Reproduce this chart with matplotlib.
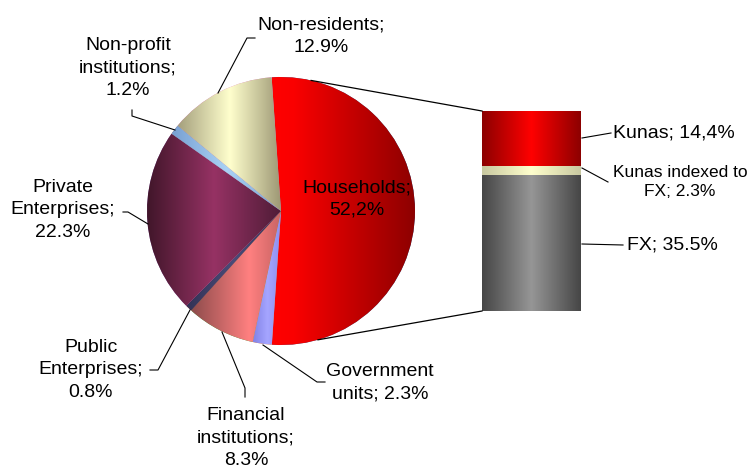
import numpy as np
import matplotlib
matplotlib.use("Agg")
from matplotlib import pyplot as plt
from matplotlib.colors import LinearSegmentedColormap

plt.rcParams['font.family'] = ['Liberation Sans', 'DejaVu Sans']

# data
sectors = ['Households', 'Government units', 'Financial institutions', 'Public Enterprises',
           'Private Enterprises', 'Non-profit institutions', 'Non-residents']
shares = [52.2, 2.3, 8.3, 0.8, 22.3, 1.2, 12.9]
share_labels = ['Households;\n52,2%', 'Government\nunits; 2.3%', 'Financial\ninstitutions;\n8.3%',
                'Public\nEnterprises;\n0.8%', 'Private\nEnterprises;\n22.3%',
                'Non-profit\ninstitutions;\n1.2%', 'Non-residents;\n12.9%']
hh_parts = ['FX', 'Kunas indexed to FX', 'Kunas']
hh_values = [35.5, 2.3, 14.4]
hh_labels = ['FX; 35.5%', 'Kunas indexed to\nFX; 2.3%', 'Kunas; 14,4%']

W, H = 748, 471
fig = plt.figure(figsize=(W / 100, H / 100), dpi=100)
ax = fig.add_axes([0, 0, 1, 1])

def py(y):
    # pixel row -> data y
    return H - y

def rgb(*c):
    return tuple(v / 255 for v in c)

def shade(patch, stops):
    # horizontal gradient over the patch, clipped to it
    cmap = LinearSegmentedColormap.from_list('g', [(p, rgb(*c)) for p, c in stops])
    bb = patch.get_extents().transformed(ax.transData.inverted())
    grad = np.linspace(0, 1, 256).reshape(1, -1)
    im = ax.imshow(grad, cmap=cmap, extent=[bb.x0, bb.x1, bb.y0, bb.y1],
                   aspect='auto', interpolation='bilinear', zorder=3)
    im.set_clip_path(patch)

cx, cy, r = 281, py(211), 134
wedges, _ = ax.pie(shares, center=(cx, cy), radius=r, startangle=94, counterclock=False,
                   frame=True, wedgeprops=dict(linewidth=0))
ax.set_xlim(0, W)
ax.set_ylim(0, H)
ax.set_aspect('auto')
ax.axis('off')
fig.canvas.draw()

pie_grads = [
    [(0, (255, 0, 0)), (0.15, (250, 0, 0)), (1, (140, 0, 0))],
    [(0, (130, 130, 230)), (0.5, (165, 165, 255)), (1, (140, 140, 240))],
    [(0, (140, 75, 75)), (0.65, (255, 128, 128)), (1, (200, 100, 100))],
    [(0, (50, 50, 85)), (0.5, (75, 75, 120)), (1, (50, 50, 85))],
    [(0, (65, 22, 42)), (0.5, (150, 50, 100)), (1, (80, 28, 55))],
    [(0, (120, 160, 210)), (0.5, (170, 210, 245)), (1, (120, 160, 210))],
    [(0, (165, 160, 125)), (0.5, (255, 255, 205)), (1, (155, 150, 115))],
]
for w, g in zip(wedges, pie_grads):
    shade(w, g)

# bar of households
bx, bw = 531.5, 99
btop, bbot = py(111), py(311)
scale = (btop - bbot) / sum(hh_values)
bottoms = bbot + scale * np.concatenate([[0], np.cumsum(hh_values)[:-1]])
bars = ax.bar([bx] * 3, np.array(hh_values) * scale, bottom=bottoms, width=bw,
              linewidth=0, color='white')
fig.canvas.draw()
bar_grads = [
    [(0, (70, 70, 70)), (0.5, (150, 150, 150)), (1, (70, 70, 70))],
    [(0, (200, 200, 160)), (0.5, (255, 255, 205)), (1, (200, 200, 160))],
    [(0, (140, 0, 0)), (0.5, (255, 0, 0)), (1, (140, 0, 0))],
]
for b, g in zip(bars, bar_grads):
    shade(b, g)

# connector lines pie -> bar
a1, a2 = np.radians(77), np.radians(-74)
ax.plot([cx + r * np.cos(a1), bx - bw / 2], [cy + r * np.sin(a1), btop], color='black', lw=0.9, zorder=4)
ax.plot([cx + r * np.cos(a2), bx - bw / 2], [cy + r * np.sin(a2), bbot], color='black', lw=0.9, zorder=4)

fs = 14
txt = dict(fontsize=fs, ha='center', va='center', linespacing=1.45, zorder=5)
# pie labels (pixel positions)
pos = [(357, 199), (380, 383), (246, 438), (91, 370), (63, 210), (128, 68), (321, 36)]
for lab, (x, y) in zip(share_labels, pos):
    ax.text(x, py(y), lab, **txt)

leaders = [
    None,
    [(325, 382), (317, 382), (263, 345)],
    [(245, 397), (245, 388), (222, 332)],
    [(150, 370), (158, 370), (190, 310)],
    [(123, 212), (128, 212), (148, 224)],
    [(132, 110), (132, 116), (175, 130)],
    [(255, 38), (247, 38), (218, 93)],
]
for ln in leaders:
    if ln:
        ax.plot([p[0] for p in ln], [py(p[1]) for p in ln], color='black', lw=0.8, zorder=4)

# bar labels
ax.text(627, py(245), hh_labels[0], fontsize=fs, ha='left', va='center', zorder=5)
ax.text(680, py(182), hh_labels[1], fontsize=12.5, ha='center', va='center', linespacing=1.3, zorder=5)
ax.text(613, py(133), hh_labels[2], fontsize=fs, ha='left', va='center', zorder=5)
for ln in [[(582, 244), (623, 245)], [(582, 168), (608, 182)], [(582, 138), (611, 133)]]:
    ax.plot([p[0] for p in ln], [py(p[1]) for p in ln], color='black', lw=0.8, zorder=4)

fig.savefig('out.png', dpi=100)
